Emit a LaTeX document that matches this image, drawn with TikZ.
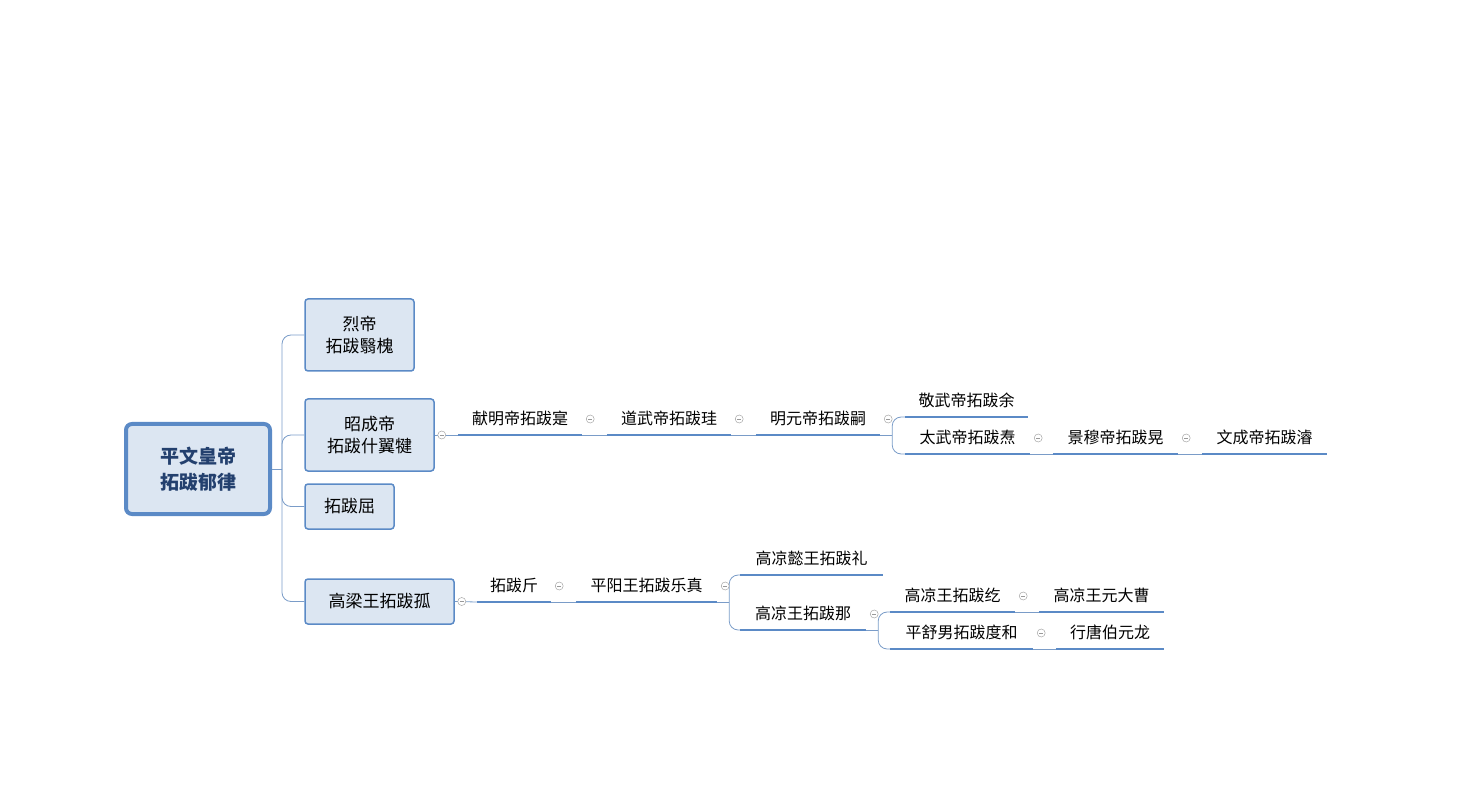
\documentclass[tikz,border=0pt]{standalone}
\usepackage{fontspec}
\setmainfont{Noto Sans CJK SC}
\definecolor{boxfill}{HTML}{DCE6F2}
\definecolor{boxline}{HTML}{5B8AC6}
\definecolor{linkline}{HTML}{7A9CC8}
\definecolor{rootText}{HTML}{23406E}
\begin{document}
\begin{tikzpicture}
    [x=1pt, y=-1pt,
    box/.style={draw=boxline, fill=boxfill, line width=1.5pt, rounded corners=3pt,
        align=center, font=\fontsize{17}{22}\selectfont, inner sep=0pt},
    root/.style={box, line width=4pt, rounded corners=6pt, text=rootText,
        font=\fontsize{19}{26}\selectfont\bfseries},
    topic/.style={minimum height=32pt, inner sep=0pt, anchor=south,
        font=\fontsize{16}{20}\selectfont},
    uline/.style={draw=boxline, line width=2.5pt},
    link/.style={draw=linkline, line width=0.8pt, rounded corners=9pt},
    fold/.style={circle, draw=gray!70, line width=0.5pt, minimum size=8pt, inner sep=0pt, fill=white,
        path picture={\draw[gray!80, line width=0.6pt] ([xshift=-2pt]path picture bounding box.center)
            -- ([xshift=2pt]path picture bounding box.center);}}]
    \useasboundingbox (0,0) rectangle (1478,791);

    % main boxes
    \node[root, minimum width=144pt, minimum height=90pt] (root) at (198,469) {平文皇帝\\拓跋郁律};
    \node[box, minimum width=109pt, minimum height=72pt] (lie) at (359.5,335) {烈帝\\拓跋翳槐};
    \node[box, minimum width=129pt, minimum height=72pt] (zhao) at (369.5,435) {昭成帝\\拓跋什翼犍};
    \node[box, minimum width=89pt, minimum height=45pt] (qu) at (349.5,506.5) {拓跋屈};
    \node[box, minimum width=149pt, minimum height=45pt] (gu) at (379.5,601.5) {高梁王拓跋孤};

    % upper branch
    \node[topic, minimum width=124pt] (xian) at (520,435) {献明帝拓跋寔};
    \node[topic, minimum width=124pt] (daowu) at (669,435) {道武帝拓跋珪};
    \node[topic, minimum width=124pt] (mingyuan) at (818,435) {明元帝拓跋嗣};
    \node[topic, minimum width=123pt] (jingwu) at (966.5,417) {敬武帝拓跋余};
    \node[topic, minimum width=125pt] (taiwu) at (967.5,454) {太武帝拓跋焘};
    \node[topic, minimum width=125pt] (jingmu) at (1115.5,454) {景穆帝拓跋晃};
    \node[topic, minimum width=125pt] (wencheng) at (1264.5,454) {文成帝拓跋濬};

    % lower branch
    \node[topic, minimum width=74pt] (jin) at (514,602) {拓跋斤};
    \node[topic, minimum width=141pt] (lezhen) at (646.5,602) {平阳王拓跋乐真};
    \node[topic, minimum width=143pt] (li) at (811.5,575) {高凉懿王拓跋礼};
    \node[topic, minimum width=126pt] (na) at (803,630) {高凉王拓跋那};
    \node[topic, minimum width=125pt] (he) at (952.5,612) {高凉王拓跋纥};
    \node[topic, minimum width=125pt] (dacao) at (1101.5,612) {高凉王元大曹};
    \node[topic, minimum width=143pt] (duhe) at (961.5,649) {平舒男拓跋度和};
    \node[topic, minimum width=108pt] (yuanlong) at (1110,649) {行唐伯元龙};

    \foreach \n in {xian,daowu,mingyuan,jingwu,taiwu,jingmu,wencheng,
                    jin,lezhen,li,na,he,dacao,duhe,yuanlong}
        \draw[uline] (\n.south west) -- (\n.south east);

    % connectors
    \draw[link] (root.east) -- ++(10,0) coordinate (trunk);
    \foreach \n in {lie,zhao,qu,gu}
        \draw[link] (trunk) |- (\n.west);
    \draw[link] (zhao.east) -- (xian.south west);
    \draw[link] (xian.south east) -- (daowu.south west);
    \draw[link] (daowu.south east) -- (mingyuan.south west);
    \draw[link] (mingyuan.south east) -- ++(12,0) coordinate (fa);
    \draw[link] (fa) |- (jingwu.south west);
    \draw[link] (fa) |- (taiwu.south west);
    \draw[link] (taiwu.south east) -- (jingmu.south west);
    \draw[link] (jingmu.south east) -- (wencheng.south west);
    \draw[link] (gu.east) -- (jin.south west);
    \draw[link] (jin.south east) -- (lezhen.south west);
    \draw[link] (lezhen.south east) -- ++(12,0) coordinate (fb);
    \draw[link] (fb) |- (li.south west);
    \draw[link] (fb) |- (na.south west);
    \draw[link] (na.south east) -- ++(12,0) coordinate (fc);
    \draw[link] (fc) |- (he.south west);
    \draw[link] (fc) |- (duhe.south west);
    \draw[link] (he.south east) -- (dacao.south west);
    \draw[link] (duhe.south east) -- (yuanlong.south west);

    % fold markers
    \node[fold] (fz) at ([xshift=7pt]zhao.east) {};
    \node[fold] (fg) at ([xshift=7pt]gu.east) {};
    \foreach \n in {xian,daowu,mingyuan,taiwu,jingmu,jin,lezhen,na,he,duhe}
        \node[fold] (f\n) at ([shift={(8,-16)}]\n.south east) {};
\end{tikzpicture}
\end{document}
